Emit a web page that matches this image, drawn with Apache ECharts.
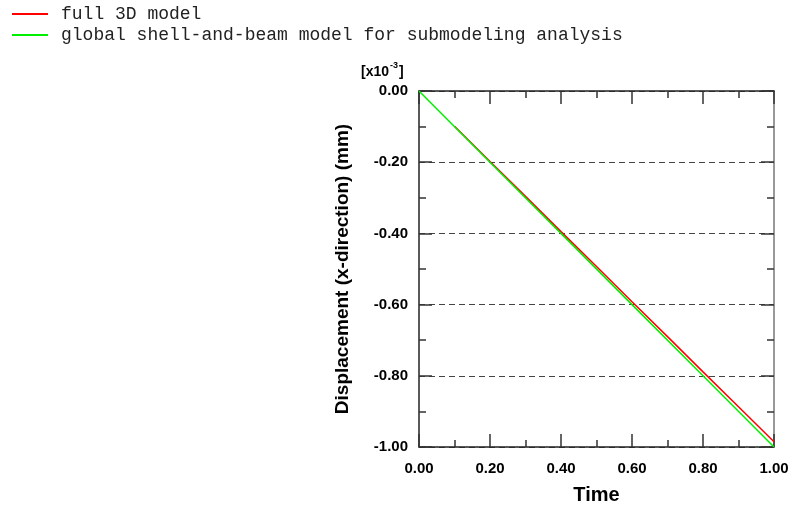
<!DOCTYPE html>
<html><head>
<meta charset="UTF-8">
<title>Displacement vs Time</title>
<style>
  body { margin: 0; background: #fff; }
  #chart { width: 792px; height: 513px; }
</style>
</head>
<body>
  <div id="chart"></div>
  <script src="https://cdn.jsdelivr.net/npm/echarts@6/dist/echarts.min.js"></script>
  <script>
    // values in units of 1e-3 mm
    const seriesNames = ['full 3D model', 'global shell-and-beam model for submodeling analysis'];
    const fullModel = [
      [0.1, -0.099], [0.2, -0.198], [0.3, -0.296], [0.4, -0.395], [0.5, -0.493],
      [0.6, -0.592], [0.7, -0.690], [0.8, -0.789], [0.9, -0.887], [1.0, -0.985]
    ];
    const globalModel = [
      [0.0, 0.0], [0.2, -0.2], [0.4, -0.4], [0.6, -0.6], [0.8, -0.8], [1.0, -1.0]
    ];

    const chart = echarts.init(document.getElementById('chart'));
    const labelFont = { fontFamily: 'Liberation Sans', fontWeight: 'bold', fontSize: 15, color: '#000' };
    const tick = { show: true, inside: true, length: 13, lineStyle: { color: '#333', width: 1.5 } };
    const minor = { show: true, splitNumber: 2, length: 7, lineStyle: { color: '#333', width: 1.5 } };

    chart.setOption({
      animation: false,
      grid: { left: 419, right: 18, top: 91, bottom: 66 },
      legend: {
        orient: 'vertical', left: 7, top: 0, itemGap: 3,
        itemWidth: 36, itemHeight: 2, icon: 'rect',
        textStyle: { fontFamily: 'Liberation Mono', fontSize: 18, lineHeight: 18, color: '#222', padding: [0, 0, 0, 8] },
        data: seriesNames
      },
      xAxis: [{
        type: 'value', min: 0, max: 1, interval: 0.2,
        name: 'Time', nameLocation: 'middle', nameGap: 38,
        nameTextStyle: { fontFamily: 'Liberation Sans', fontWeight: 'bold', fontSize: 20, color: '#000' },
        axisLine: { show: true, onZero: false, lineStyle: { color: '#222', width: 1.5 } },
        axisTick: tick, minorTick: minor,
        axisLabel: Object.assign({ margin: 14, formatter: v => v.toFixed(2) }, labelFont),
        splitLine: { show: false }
      }, {
        type: 'value', min: 0, max: 1, interval: 0.2, position: 'top',
        axisLine: { show: true, onZero: false, lineStyle: { color: '#222', width: 1.5 } },
        axisTick: tick, minorTick: minor, axisLabel: { show: false }, splitLine: { show: false }
      }],
      yAxis: [{
        type: 'value', min: -1, max: 0, interval: 0.2,
        name: 'Displacement (x-direction) (mm)', nameLocation: 'middle', nameGap: 67, nameRotate: 90,
        nameTextStyle: { fontFamily: 'Liberation Sans', fontWeight: 'bold', fontSize: 19, color: '#000' },
        axisLine: { show: true, onZero: false, lineStyle: { color: '#222', width: 1.5 } },
        axisTick: tick, minorTick: minor,
        axisLabel: Object.assign({ margin: 11, formatter: v => v.toFixed(2) }, labelFont),
        splitLine: { show: true, lineStyle: { color: '#444', type: [6, 4], width: 1.2 } }
      }, {
        type: 'value', min: -1, max: 0, interval: 0.2, position: 'right',
        axisLine: { show: true, onZero: false, lineStyle: { color: '#777', width: 1.5 } },
        axisTick: tick, minorTick: minor, axisLabel: { show: false }, splitLine: { show: false }
      }],
      graphic: [
        { type: 'text', left: 361, top: 65, style: { text: '[x10', font: 'bold 14px "Liberation Sans"', fill: '#000' } },
        { type: 'text', left: 390, top: 61, style: { text: '-3', font: 'bold 9px "Liberation Sans"', fill: '#000' } },
        { type: 'text', left: 399, top: 65, style: { text: ']', font: 'bold 14px "Liberation Sans"', fill: '#000' } }
      ],
      series: [{
        name: seriesNames[0], type: 'line', data: fullModel,
        showSymbol: false, symbol: 'none', color: '#ff0000',
        lineStyle: { color: '#ff0000', width: 1.5 }
      }, {
        name: seriesNames[1], type: 'line', data: globalModel,
        showSymbol: false, symbol: 'none', color: '#00ee00',
        lineStyle: { color: '#00ee00', width: 1.5 }
      }]
    });
  </script>
</body>
</html>
